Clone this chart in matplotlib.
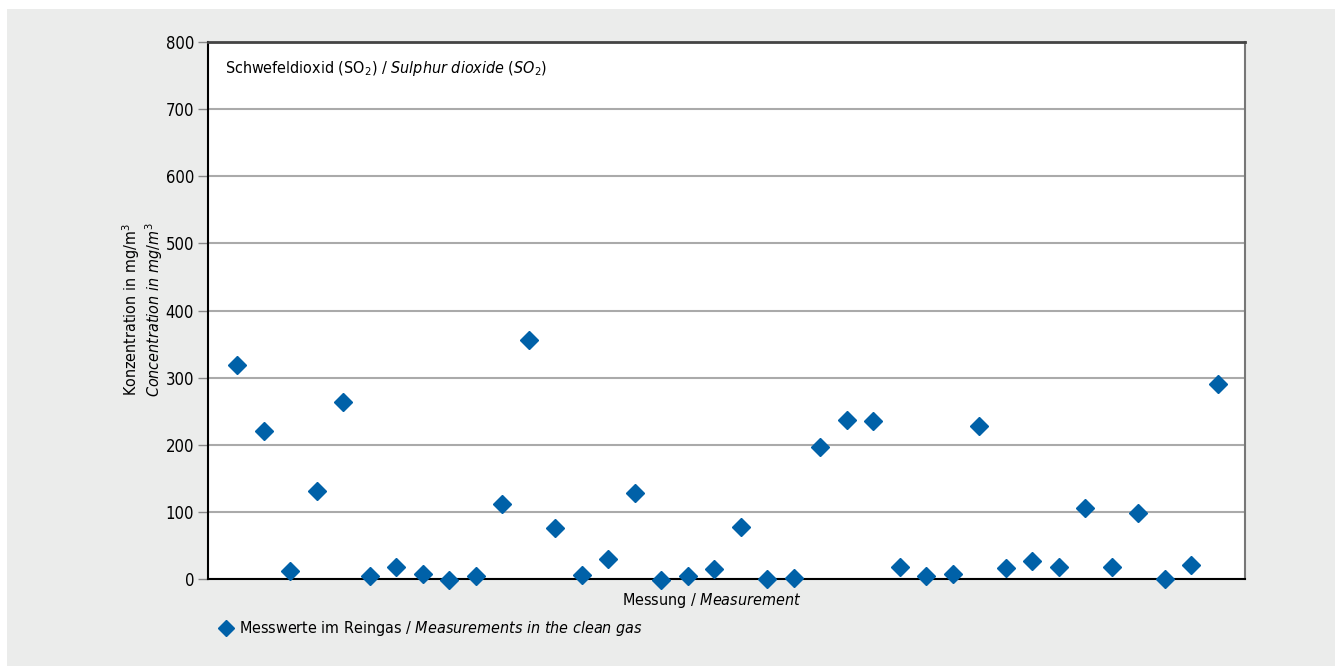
import matplotlib
matplotlib.use("Agg")
from matplotlib import pyplot as plt
from matplotlib.patches import Rectangle
from matplotlib.lines import Line2D

plt.rcParams['font.family'] = ['DejaVu Sans']
plt.rcParams['font.stretch'] = 'condensed'
plt.rcParams['mathtext.fontset'] = 'custom'
plt.rcParams['mathtext.rm'] = 'DejaVu Sans:stretch=condensed'
plt.rcParams['mathtext.it'] = 'DejaVu Sans:italic:stretch=condensed'

# data
measurement = list(range(1, 39))
so2_values = [319, 220, 12, 131, 264, 4, 18, 7, -2, 5,
              112, 356, 76, 6, 30, 128, -2, 4, 15, 77,
              0, 2, 197, 237, 235, 18, 4, 8, 228, 16,
              27, 18, 106, 18, 98, 0, 21, 291]
y_ticks = [0, 100, 200, 300, 400, 500, 600, 700, 800]

blue = '#0061a8'
grey_bg = '#ebeceb'
fs = 11.5

fig = plt.figure(figsize=(13.35, 6.66), dpi=100, facecolor='white')
fig.patches.append(Rectangle((7 / 1335, 0), 1, 1 - 9 / 666, transform=fig.transFigure,
                             facecolor=grey_bg, edgecolor='none', zorder=-10))

ax = fig.add_axes([208 / 1335, 1 - 579 / 666, 1037 / 1335, 537 / 666])
ax.set_facecolor('white')

ax.plot(measurement, so2_values, linestyle='none', marker='D', markersize=9,
        color=blue, clip_on=False, zorder=5)

ax.set_ylim(0, 800)
ax.set_xlim(-0.094, 39.02)
ax.set_yticks(y_ticks)
ax.set_yticklabels([str(t) for t in y_ticks], fontsize=12)
ax.set_xticks([])
ax.tick_params(axis='y', length=7, width=1, color='#888888', pad=3)
ax.yaxis.grid(True, color='#aaaaaa', linewidth=1.5)
ax.set_axisbelow(True)

ax.spines['left'].set_color('black')
ax.spines['left'].set_linewidth(1.5)
ax.spines['bottom'].set_color('black')
ax.spines['bottom'].set_linewidth(1.5)
ax.spines['top'].set_color('#444444')
ax.spines['top'].set_linewidth(2)
ax.spines['right'].set_color('#777777')
ax.spines['right'].set_linewidth(1.5)

# title inside the plot
ax.text(0.016, 0.968, r'Schwefeldioxid (SO$_2$) / $\mathit{Sulphur\ dioxide\ (SO_2)}$',
        transform=ax.transAxes, fontsize=fs, va='top', ha='left')

# y axis label, two lines
fig.text(131 / 1335, 1 - 310 / 666, r'Konzentration in mg/m$^3$', rotation=90,
         fontsize=fs, ha='center', va='center')
fig.text(154 / 1335, 1 - 310 / 666, r'$\mathit{Concentration\ in\ mg/m^3}$', rotation=90,
         fontsize=fs, ha='center', va='center')

# x label
fig.text(712 / 1335, 1 - 601 / 666, r'Messung / $\mathit{Measurement}$',
         fontsize=fs, ha='center', va='center')

# legend
handle = Line2D([], [], linestyle='none', marker='D', markersize=8.5, color=blue)
fig.legend([handle], [r'Messwerte im Reingas / $\mathit{Measurements\ in\ the\ clean\ gas}$'],
           loc='center left', bbox_to_anchor=(219 / 1335, 1 - 629 / 666),
           frameon=False, fontsize=fs, handlelength=0.9, handletextpad=0.35,
           borderaxespad=0, borderpad=0)

fig.savefig('out.png', dpi=100, facecolor=fig.get_facecolor())
